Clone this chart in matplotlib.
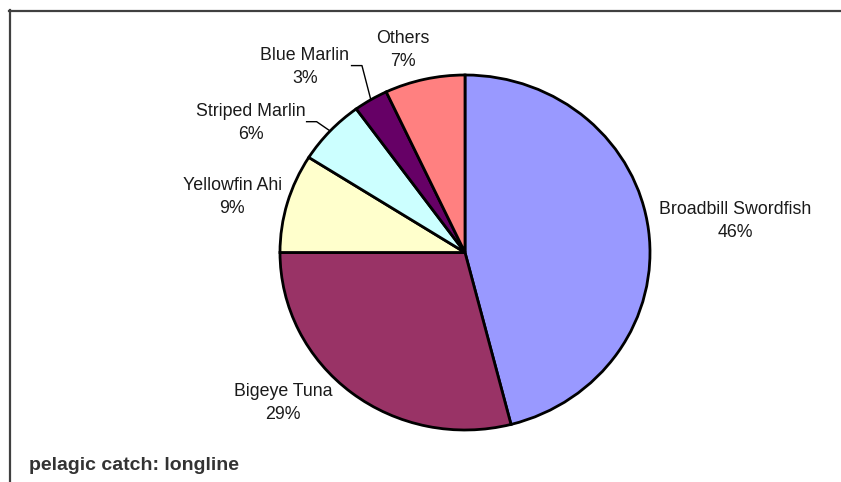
import matplotlib
matplotlib.use("Agg")
import matplotlib.pyplot as plt
from matplotlib.lines import Line2D
import numpy as np

# Longline pelagic catch composition (percent)
species = ["Broadbill Swordfish", "Bigeye Tuna", "Yellowfin Ahi",
           "Striped Marlin", "Blue Marlin", "Others"]
shares = [46, 29, 9, 6, 3, 7]
colors = ["#9999FF", "#993366", "#FFFFCC", "#CCFFFF", "#660066", "#FF8080"]

plt.rcParams["font.family"] = ["Liberation Sans", "DejaVu Sans"]

W, H = 841, 482
fig = plt.figure(figsize=(W / 100, H / 100), dpi=100)
fig.patch.set_facecolor("white")

# Pie centre / radii in pixels (slightly wider than tall)
cx, cy, rx, ry = 465, 252.5, 185, 177.5
ax = fig.add_axes([0, 0, 1, 1])
wedges, _ = ax.pie(shares, colors=colors, startangle=90, counterclock=False,
                   radius=1.0, center=(0, 0),
                   wedgeprops=dict(edgecolor="black", linewidth=2.0))
ax.set_aspect("auto")
ax.set_xlim(-cx / rx, (W - cx) / rx)
ax.set_ylim((cy - H) / ry, cy / ry)
ax.axis("off")

# Label placement (data units) and optional leader-line elbows
label_pos = [(1.459, 0.177), (-0.984, -0.848), (-1.259, 0.313),
             (-1.159, 0.73), (-0.865, 1.045), (-0.335, 1.141)]
leaders = {3: [(-0.860, 0.737), (-0.802, 0.737)],
           4: [(-0.617, 1.053), (-0.557, 1.053)]}

for i, (w, name, val) in enumerate(zip(wedges, species, shares)):
    x, y = label_pos[i]
    ax.text(x, y, f"{name}\n{val}%", ha="center", va="center",
            fontsize=12.8, color="#1a1a1a", linespacing=1.4)
    if i in leaders:
        mid = np.deg2rad((w.theta1 + w.theta2) / 2)
        pts = leaders[i] + [(np.cos(mid), np.sin(mid))]
        xs, ys = zip(*pts)
        ax.plot(xs, ys, color="black", linewidth=1.0, solid_capstyle="butt")

# Chart border (top and left edges)
fig.add_artist(Line2D([9 / W, 1], [1 - 11 / H, 1 - 11 / H],
                      transform=fig.transFigure, color="#404040", linewidth=1.6))
fig.add_artist(Line2D([10 / W, 10 / W], [1 - 10 / H, 0],
                      transform=fig.transFigure, color="#404040", linewidth=1.6))

fig.text(29 / W, 1 - 465 / H, "pelagic catch: longline", fontsize=14,
         fontweight="bold", color="#333333", ha="left", va="center")

fig.savefig("out.png", dpi=100, facecolor="white")
